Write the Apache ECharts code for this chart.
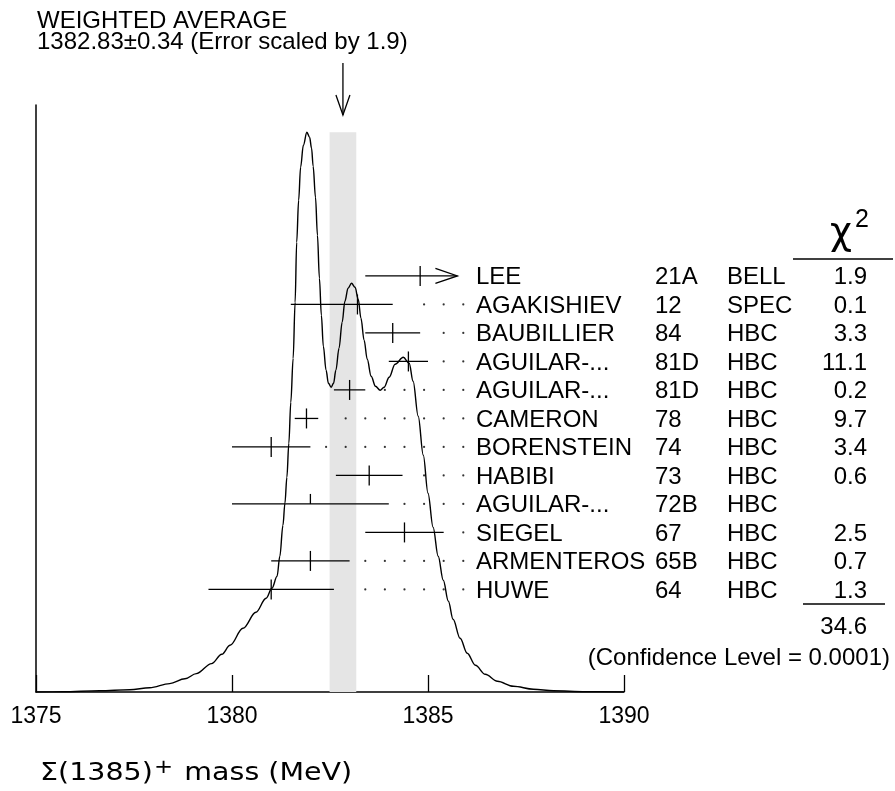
<!DOCTYPE html>
<html><head><meta charset="utf-8">
<script src="https://cdn.jsdelivr.net/npm/echarts@6/dist/echarts.min.js"></script>
<style>html,body{margin:0;padding:0;background:#fff}#c{width:895px;height:791px}</style>
</head><body><div id="c"></div>
<script>
// ---- data ----
const authors = ['LEE','AGAKISHIEV','BAUBILLIER','AGUILAR-...','AGUILAR-...','CAMERON','BORENSTEIN','HABIBI','AGUILAR-...','SIEGEL','ARMENTEROS','HUWE'];
const years = ['21A','12','84','81D','81D','78','74','73','72B','67','65B','64'];
const techniques = ['BELL','SPEC','HBC','HBC','HBC','HBC','HBC','HBC','HBC','HBC','HBC','HBC'];
const masses = [1384.8,1383.2,1384.1,1384.5,1383.0,1381.9,1381.0,1383.5,1382.0,1384.4,1382.0,1381.0];
const errorsLow = [1.4,1.7,0.7,0.5,0.4,0.3,1.0,0.85,2.0,1.0,1.0,1.6];
const errorsHigh = [1.4,0.9,0.7,0.5,0.4,0.3,1.0,0.85,2.0,1.0,1.0,1.6];
const chi2 = ['1.9','0.1','3.3','11.1','0.2','9.7','3.4','0.6','','2.5','0.7','1.3'];
const chi2Total = '34.6';
const confidenceLevel = '0.0001';
const avgMass = 1382.83, avgError = 0.34, errorScale = 1.9;
const xTicks = [1375, 1380, 1385, 1390];
// ideogram curve (arbitrary units)
const ideogramMass = [1375.00,1375.68,1376.62,1377.39,1377.90,1378.41,1378.80,1379.09,1379.48,1379.74,1379.95,1380.28,1380.61,1380.87,1381.02,1381.15,1381.22,1381.30,1381.35,1381.40,1381.45,1381.50,1381.56,1381.61,1381.65,1381.70,1381.75,1381.82,1381.91,1381.98,1382.03,1382.07,1382.13,1382.18,1382.23,1382.28,1382.33,1382.40,1382.46,1382.53,1382.59,1382.65,1382.73,1382.81,1382.88,1382.96,1383.05,1383.14,1383.22,1383.29,1383.37,1383.45,1383.55,1383.66,1383.78,1383.88,1384.01,1384.16,1384.37,1384.52,1384.62,1384.75,1384.88,1385.00,1385.13,1385.26,1385.39,1385.52,1385.64,1385.82,1386.00,1386.21,1386.46,1386.77,1387.18,1387.69,1388.20,1389.02,1390.00];
const ideogramHeight = [0,0.2,1.2,2.2,4.2,8.4,13.2,18.4,28.4,37.7,46.7,63.7,79.7,93.7,103.7,115.7,135.7,166.7,188.7,214.7,248.7,289.7,333.7,389.7,449.7,491.7,524.7,546.7,559.7,554.7,543.7,525.7,494.7,456.7,413.7,376.7,345.7,321.7,308.7,304.7,308.7,321.7,343.7,369.7,390.7,403.7,408.7,404.7,392.7,373.7,351.7,332.7,315.7,305.7,301.7,304.7,314.7,327.7,334.7,328.7,310.7,275.7,236.7,198.7,164.7,135.7,111.7,90.7,72.7,53.7,38.7,26.7,17.7,10.7,5.7,2.7,1.2,0.3,0];

// ---- layout constants ----
const FONT = '"Liberation Sans", Arial, Helvetica, sans-serif';
const arrowLimit = 1385.75, dotEnd = 1385.9, dotStep = 0.5, dotGap = 0.35;
const colName = 476, colYear = 655, colTech = 727, colChi = 867;
const TFS = 24;

const rows = masses.map((m, i) => [m, errorsLow[i], errorsHigh[i], i, chi2[i] === '' ? 0 : 1]);
const dots = [];
masses.forEach((m, i) => {
  for (let d = dotEnd; d > xTicks[0]; d -= dotStep) {
    if (d > m + errorsHigh[i] + dotGap) dots.push([Math.round(d * 100) / 100, i]);
  }
});
const bandTop = Math.max.apply(null, ideogramHeight);

const chart = echarts.init(document.getElementById('c'));
const stroke = {stroke: '#000', lineWidth: 1.3, fill: null};

chart.setOption({
  animation: false,
  backgroundColor: '#fff',
  grid: {left: 36, right: 271, top: 105, bottom: 99},
  xAxis: {
    type: 'value', min: xTicks[0], max: xTicks[xTicks.length - 1], interval: 5,
    axisLine: {show: true, lineStyle: {color: '#000', width: 1.5}},
    axisTick: {show: true, inside: true, length: 17, lineStyle: {color: '#000', width: 1.3}},
    axisLabel: {color: '#000', fontFamily: FONT, fontSize: 23, margin: 13, formatter: v => String(v)},
    splitLine: {show: false}
  },
  yAxis: [
    {type: 'value', min: 0, max: 587, axisLine: {show: true, lineStyle: {color: '#000', width: 1.5}},
     axisTick: {show: false}, axisLabel: {show: false}, splitLine: {show: false}},
    {type: 'value', min: -6, max: 14.6, inverse: true, show: false, splitLine: {show: false}}
  ],
  series: [
    { // band for the weighted average
      type: 'custom', z: 1, clip: false, data: [[avgMass, avgError]],
      renderItem: (p, api) => {
        const a = api.coord([api.value(0) - api.value(1), bandTop]);
        const b = api.coord([api.value(0) + api.value(1), 0]);
        return {type: 'rect', shape: {x: a[0], y: a[1], width: b[0] - a[0], height: b[1] - a[1]},
                style: {fill: '#e5e5e5'}};
      }
    },
    { // arrow marking the average
      type: 'custom', z: 5, clip: false, data: [[avgMass]],
      renderItem: (p, api) => {
        const x = api.coord([api.value(0), 0])[0];
        return {type: 'group', children: [
          {type: 'line', shape: {x1: x, y1: 63, x2: x, y2: 115}, style: stroke},
          {type: 'polyline', shape: {points: [[x - 7, 95], [x, 115], [x + 7, 95]]}, style: stroke}
        ]};
      }
    },
    { // ideogram
      type: 'line', z: 3, showSymbol: false, smooth: 0.35, smoothMonotone: 'x',
      data: ideogramMass.map((m, i) => [m, ideogramHeight[i]]),
      lineStyle: {color: '#000', width: 1.4}
    },
    { // leader dots
      type: 'scatter', yAxisIndex: 1, z: 2, data: dots, symbol: 'circle', symbolSize: 2.2,
      itemStyle: {color: '#000'}
    },
    { // error bars
      type: 'custom', yAxisIndex: 1, z: 4, clip: false, data: rows,
      renderItem: (p, api) => {
        const m = api.value(0), lo = api.value(1), hi0 = api.value(2), r = api.value(3), used = api.value(4);
        const hi = Math.min(m + hi0, arrowLimit);
        const L = api.coord([m - lo, r]), R = api.coord([hi, r]), C = api.coord([m, r]);
        const ch = [
          {type: 'line', shape: {x1: L[0], y1: L[1], x2: R[0], y2: R[1]}, style: stroke},
          {type: 'line', shape: {x1: C[0], y1: C[1] - 10, x2: C[0], y2: used ? C[1] + 10 : C[1]}, style: stroke}
        ];
        if (m + hi0 > arrowLimit) {
          ch.push({type: 'polyline', shape: {points: [[R[0] - 22, R[1] - 7.5], [R[0], R[1]], [R[0] - 22, R[1] + 7.5]]}, style: stroke});
        }
        return {type: 'group', children: ch};
      }
    },
    { // table text
      type: 'custom', yAxisIndex: 1, z: 5, clip: false, data: rows,
      renderItem: (p, api) => {
        const i = p.dataIndex;
        const y = api.coord([masses[i], api.value(3)])[1] + 1.5;
        const t = (x, s, align) => ({type: 'text', x: x, y: y,
          style: {text: s, fill: '#000', fontFamily: FONT, fontSize: TFS, align: align, verticalAlign: 'middle'}});
        return {type: 'group', children: [
          t(colName, authors[i], 'left'), t(colYear, years[i], 'left'),
          t(colTech, techniques[i], 'left'), t(colChi, chi2[i], 'right')
        ]};
      }
    }
  ],
  graphic: [
    {type: 'text', x: 37, y: 21, style: {text: 'WEIGHTED AVERAGE', fill: '#000', fontFamily: FONT, fontSize: TFS, verticalAlign: 'middle'}},
    {type: 'text', x: 37, y: 42, style: {text: avgMass.toFixed(2) + '\u00b1' + avgError.toFixed(2) + ' (Error scaled by ' + errorScale + ')', fill: '#000', fontFamily: FONT, fontSize: TFS, verticalAlign: 'middle'}},
    {type: 'text', x: 830, y: 234, style: {text: '\u03c7', fill: '#000', fontFamily: '"DejaVu Sans", sans-serif', fontSize: 38, verticalAlign: 'middle'}},
    {type: 'text', x: 855, y: 220, style: {text: '2', fill: '#000', fontFamily: FONT, fontSize: 25, verticalAlign: 'middle'}},
    {type: 'line', shape: {x1: 793, y1: 259, x2: 893, y2: 259}, style: {stroke: '#000', lineWidth: 1.3}},
    {type: 'line', shape: {x1: 803, y1: 604, x2: 885, y2: 604}, style: {stroke: '#000', lineWidth: 1.3}},
    {type: 'text', x: colChi, y: 627, style: {text: chi2Total, fill: '#000', fontFamily: FONT, fontSize: TFS, align: 'right', verticalAlign: 'middle'}},
    {type: 'text', x: 890, y: 658, style: {text: '(Confidence Level = ' + confidenceLevel + ')', fill: '#000', fontFamily: FONT, fontSize: TFS, align: 'right', verticalAlign: 'middle'}},
    {type: 'text', x: 40, y: 773, scaleX: 1.14, style: {
      text: '{a|\u03a3(1385)}{s|+}{a| mass (MeV)}', fill: '#000', verticalAlign: 'middle',
      rich: {a: {fontFamily: '"DejaVu Sans", sans-serif', fontSize: 25, fill: '#000'},
             s: {fontFamily: '"DejaVu Sans", sans-serif', fontSize: 20, fill: '#000', padding: [0, 2, 10, 1]}}
    }}
  ]
});
</script></body></html>
